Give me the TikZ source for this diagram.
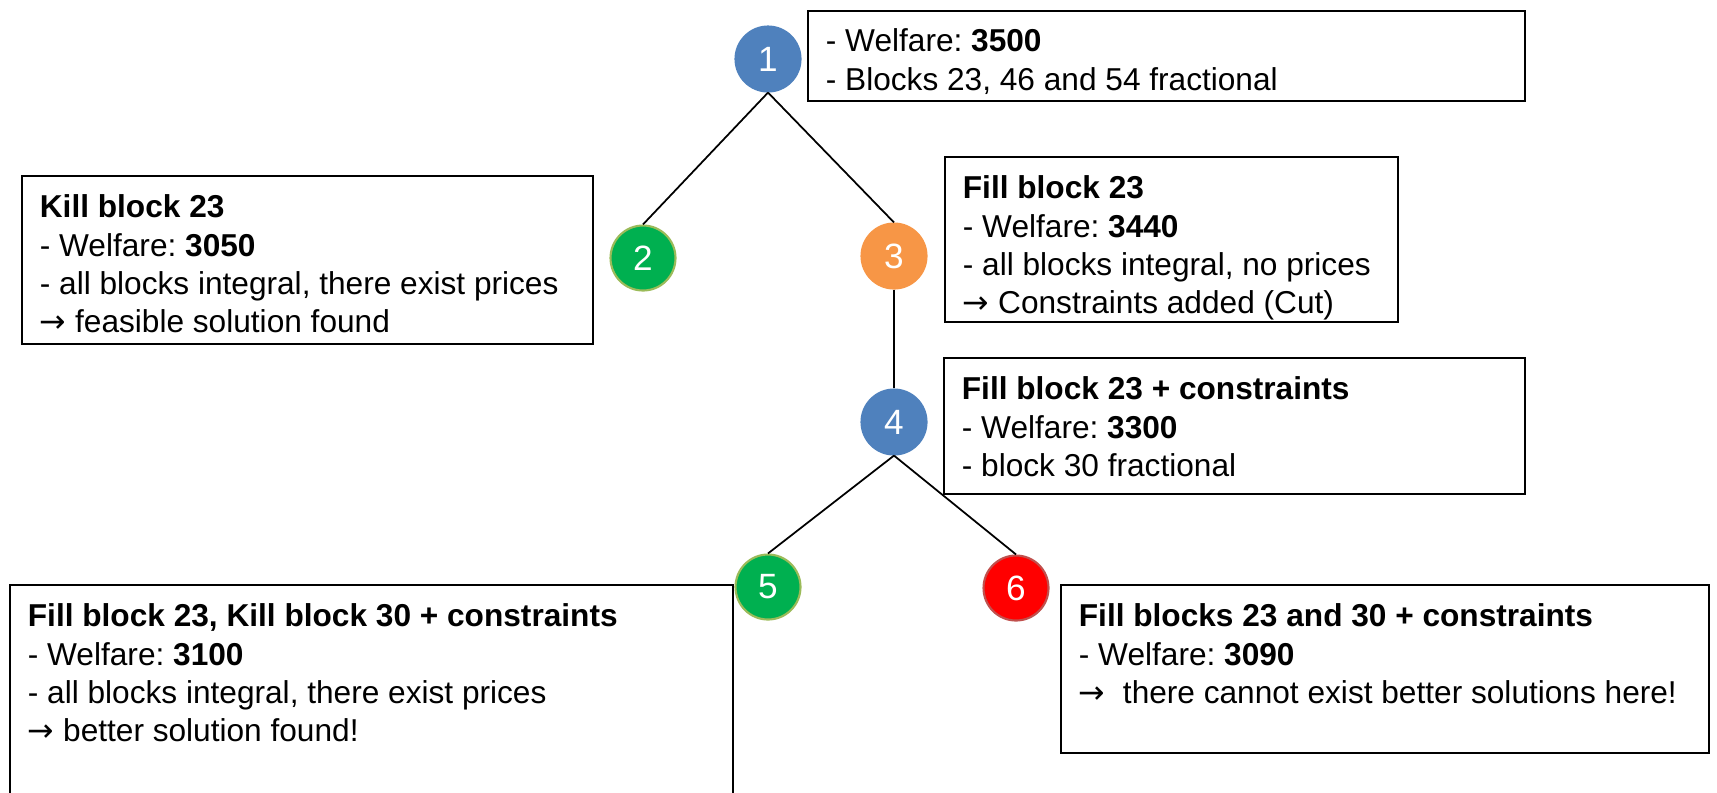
\documentclass[tikz,border=0pt]{standalone}
\usepackage{fontspec}
\setmainfont{Liberation Sans}
\newfontfamily\arrowfont{DejaVu Sans}
\usepackage{xcolor}
\usetikzlibrary{positioning}
\frenchspacing
\definecolor{nodeblue}{HTML}{4F81BD}
\definecolor{nodegreen}{HTML}{00B050}
\definecolor{nodeorange}{HTML}{F79646}
\definecolor{nodered}{HTML}{FF0000}
\definecolor{greenrim}{HTML}{9BBB59}
\definecolor{redrim}{HTML}{C0504D}
\newcommand{\resarrow}{{\arrowfont →}}
\tikzset{
    treenode/.style 2 args={
        circle,
        fill=#1,
        draw=#2,
        line width=0.6pt,
        minimum size=6.5mm,
        inner sep=0pt,
        text=white,
        font=\fontsize{10}{12}\selectfont,
    },
    infobox/.style={
        draw=black,
        line width=0.7pt,
        anchor=north west,
        inner sep=0pt,
    },
    infotext/.style={
        align=left,
        inner sep=0pt,
        font=\fontsize{9}{10.9}\selectfont,
    },
}

\begin{document}
\begin{tikzpicture}[x=0.1mm, y=-0.1mm, line width=0.5pt]
      \useasboundingbox (0,0) rectangle (1717,792);

      % tree
      \node[treenode={nodeblue}{nodeblue}] (n1) at (768,59) {1};

      \node[treenode={nodegreen}{greenrim}] (n2) at (643,258) {2};

      \node[treenode={nodeorange}{nodeorange}] (n3) at (894,256) {3};

      \node[treenode={nodeblue}{nodeblue}] (n4) at (894,422) {4};

      \node[treenode={nodegreen}{greenrim}] (n5) at (768,587) {5};

      \node[treenode={nodered}{redrim}] (n6) at (1016,588) {6};

      \draw (n1.south) -- (n2.north);
      \draw (n1.south) -- (n3.north);
      \draw (n3.south) -- (n4.north);
      \draw (n4.south) -- (n5.north);
      \draw (n4.south) -- (n6.north);

      % boxes
      \node[infobox, minimum width=71.7mm, minimum height=9mm] (b1) at (807,10) {};
      \node[infotext, below right=1.8mm and 1.8mm of b1.north west] (t1)
        {- Welfare: \textbf{3500}\\
         - Blocks 23, 46 and 54 fractional};

      \node[infobox, minimum width=57.1mm, minimum height=16.8mm] (b2) at (21,175) {};
      \node[infotext, below right=1.9mm and 1.8mm of b2.north west] (t2)
        {\textbf{Kill block 23}\\
         - Welfare: \textbf{3050}\\
         - all blocks integral, there exist prices\\
         \resarrow{} feasible solution found};

      \node[infobox, minimum width=45.3mm, minimum height=16.5mm] (b3) at (944,156) {};
      \node[infotext, below right=1.9mm and 1.8mm of b3.north west] (t3)
        {\textbf{Fill block 23}\\
         - Welfare: \textbf{3440}\\
         - all blocks integral, no prices\\
         \resarrow{} Constraints added (Cut)};

      \node[infobox, minimum width=58.1mm, minimum height=13.6mm] (b4) at (943,357) {};
      \node[infotext, below right=1.9mm and 1.8mm of b4.north west] (t4)
        {\textbf{Fill block 23 + constraints}\\
         - Welfare: \textbf{3300}\\
         - block 30 fractional};

      \node[infobox, minimum width=72.3mm, minimum height=22mm] (b5) at (9,584) {};
      \node[infotext, below right=1.9mm and 1.8mm of b5.north west] (t5)
        {\textbf{Fill block 23, Kill block 30 + constraints}\\
         - Welfare: \textbf{3100}\\
         - all blocks integral, there exist prices\\
         \resarrow{} better solution found!};

      \node[infobox, minimum width=64.8mm, minimum height=16.8mm] (b6) at (1060,584) {};
      \node[infotext, below right=1.9mm and 1.8mm of b6.north west] (t6)
        {\textbf{Fill blocks 23 and 30 + constraints}\\
         - Welfare: \textbf{3090}\\
         \resarrow\ \ there cannot exist better solutions here!};

    \end{tikzpicture}
\end{document}
